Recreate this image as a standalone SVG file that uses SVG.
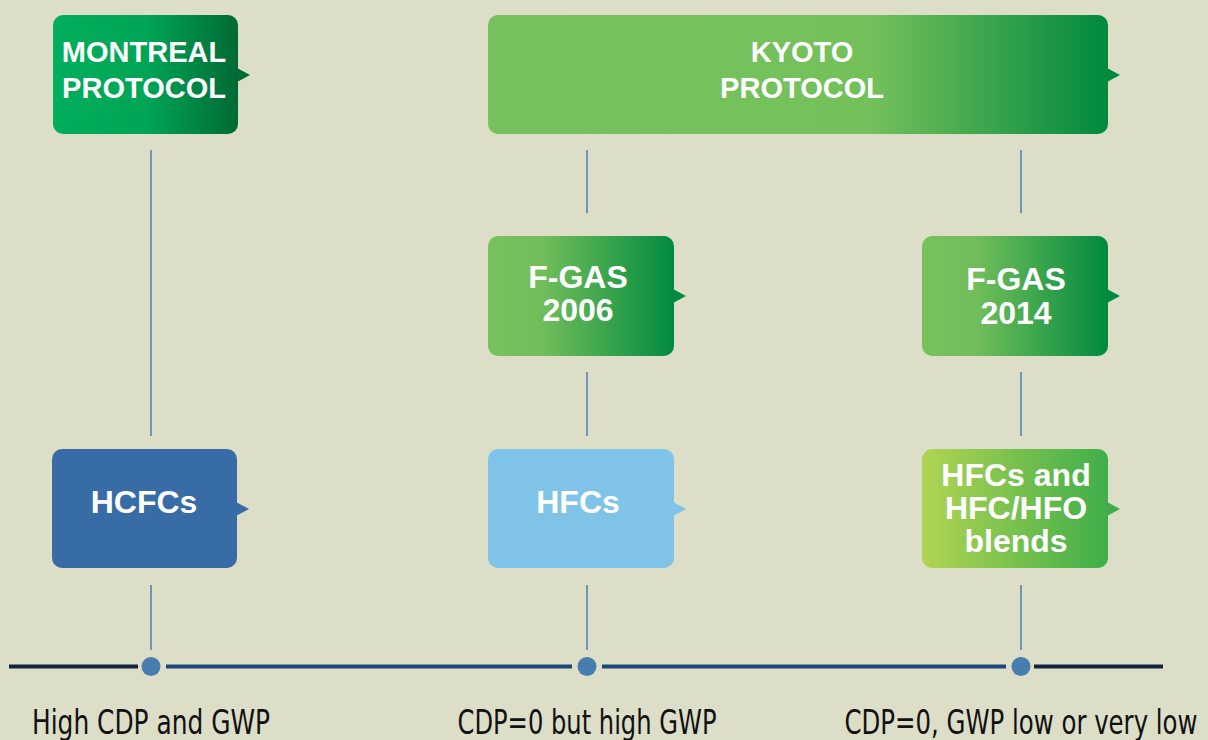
<svg xmlns="http://www.w3.org/2000/svg" width="1208" height="740" viewBox="0 0 1208 740">
  <defs>
    <linearGradient id="gMontreal" x1="0" y1="0" x2="1" y2="0">
      <stop offset="0" stop-color="#00ae5c"/>
      <stop offset="0.5" stop-color="#00a556"/>
      <stop offset="1" stop-color="#006a34"/>
    </linearGradient>
    <linearGradient id="gKyoto" x1="0" y1="0" x2="1" y2="0">
      <stop offset="0" stop-color="#77c25c"/>
      <stop offset="0.62" stop-color="#74c05b"/>
      <stop offset="1" stop-color="#00893e"/>
    </linearGradient>
    <linearGradient id="gFgas" x1="0" y1="0" x2="1" y2="0">
      <stop offset="0" stop-color="#77c25c"/>
      <stop offset="0.3" stop-color="#70bd5a"/>
      <stop offset="1" stop-color="#008a3f"/>
    </linearGradient>
    <linearGradient id="gBlend" x1="0" y1="0" x2="1" y2="0">
      <stop offset="0" stop-color="#b2d453"/>
      <stop offset="1" stop-color="#3fae4a"/>
    </linearGradient>
    <style>
      .title { font-family: "Liberation Sans", Arial, sans-serif; font-weight: bold; fill: #ffffff; text-anchor: middle; }
      .big { font-size: 29px; }
      .mid { font-size: 32px; }
      .stem { stroke: #4a7fb0; stroke-width: 1.5; fill: none; }
      .dot { fill: #477eaf; }
      .caption { font-family: "Liberation Sans Narrow", "DejaVu Sans Condensed", "Liberation Sans", sans-serif; font-size: 33px; fill: #111111; text-anchor: middle; }
    </style>
  </defs>

  <rect width="1208" height="740" fill="#dcdec8"/>

  <!-- connectors: stems and timeline -->
  <g id="connectors">
    <line class="stem" x1="151" y1="150" x2="151" y2="436"/>
    <line class="stem" x1="151" y1="585" x2="151" y2="650"/>
    <line class="stem" x1="587" y1="150" x2="587" y2="213"/>
    <line class="stem" x1="587" y1="372" x2="587" y2="436"/>
    <line class="stem" x1="587" y1="585" x2="587" y2="650"/>
    <line class="stem" x1="1021" y1="150" x2="1021" y2="213"/>
    <line class="stem" x1="1021" y1="372" x2="1021" y2="436"/>
    <line class="stem" x1="1021" y1="585" x2="1021" y2="650"/>

    <line x1="9" y1="666.5" x2="138" y2="666.5" stroke="#14233f" stroke-width="4"/>
    <line x1="166" y1="666.5" x2="572" y2="666.5" stroke="#1d4678" stroke-width="4"/>
    <line x1="602" y1="666.5" x2="1006" y2="666.5" stroke="#1d4678" stroke-width="4"/>
    <line x1="1034" y1="666.5" x2="1163" y2="666.5" stroke="#14223d" stroke-width="4"/>
    <circle class="dot" cx="151" cy="666.5" r="9.5"/>
    <circle class="dot" cx="587" cy="666.5" r="9.5"/>
    <circle class="dot" cx="1021" cy="666.5" r="9.5"/>
  </g>

  <g id="montreal">
    <rect x="53" y="15" width="185" height="119" rx="10" fill="url(#gMontreal)"/>
    <polygon points="237,68 250,75 237,82" fill="#006b35"/>
    <text class="title big" x="144" y="62">MONTREAL</text>
    <text class="title big" x="144" y="98">PROTOCOL</text>
  </g>

  <g id="kyoto">
    <rect x="488" y="15" width="620" height="119" rx="10" fill="url(#gKyoto)"/>
    <polygon points="1107,68 1120,75 1107,82" fill="#008a3e"/>
    <text class="title big" x="802" y="62">KYOTO</text>
    <text class="title big" x="802" y="98">PROTOCOL</text>
  </g>

  <g id="fgas2006">
    <rect x="488" y="236" width="186" height="120" rx="10" fill="url(#gFgas)"/>
    <polygon points="673,289 686,296 673,303" fill="#008a3f"/>
    <text class="title mid" x="578" y="288">F-GAS</text>
    <text class="title mid" x="578" y="321">2006</text>
  </g>

  <g id="fgas2014">
    <rect x="922" y="236" width="186" height="120" rx="10" fill="url(#gFgas)"/>
    <polygon points="1107,289 1120,296 1107,303" fill="#008a3f"/>
    <text class="title mid" x="1016" y="290">F-GAS</text>
    <text class="title mid" x="1016" y="324">2014</text>
  </g>

  <g id="hcfcs">
    <rect x="52" y="449" width="185" height="119" rx="10" fill="#376ca6"/>
    <polygon points="236,502 249,509 236,516" fill="#376ca6"/>
    <text class="title mid" x="144" y="513">HCFCs</text>
  </g>

  <g id="hfcs">
    <rect x="488" y="449" width="186" height="119" rx="10" fill="#7fc3e9"/>
    <polygon points="673,502 686,509 673,516" fill="#7fc3e9"/>
    <text class="title mid" x="578" y="513">HFCs</text>
  </g>

  <g id="blends">
    <rect x="922" y="449" width="186" height="119" rx="10" fill="url(#gBlend)"/>
    <polygon points="1107,502 1120,509 1107,516" fill="#3fae4a"/>
    <text class="title mid" x="1016" y="486">HFCs and</text>
    <text class="title mid" x="1016" y="519">HFC/HFO</text>
    <text class="title mid" x="1016" y="552">blends</text>
  </g>

  <g id="captions">
    <text class="caption" x="151" y="734" textLength="238" lengthAdjust="spacingAndGlyphs">High CDP and GWP</text>
    <text class="caption" x="587" y="734" textLength="259" lengthAdjust="spacingAndGlyphs">CDP=0 but high GWP</text>
    <text class="caption" x="1021" y="734" textLength="353" lengthAdjust="spacingAndGlyphs">CDP=0, GWP low or very low</text>
  </g>
</svg>
